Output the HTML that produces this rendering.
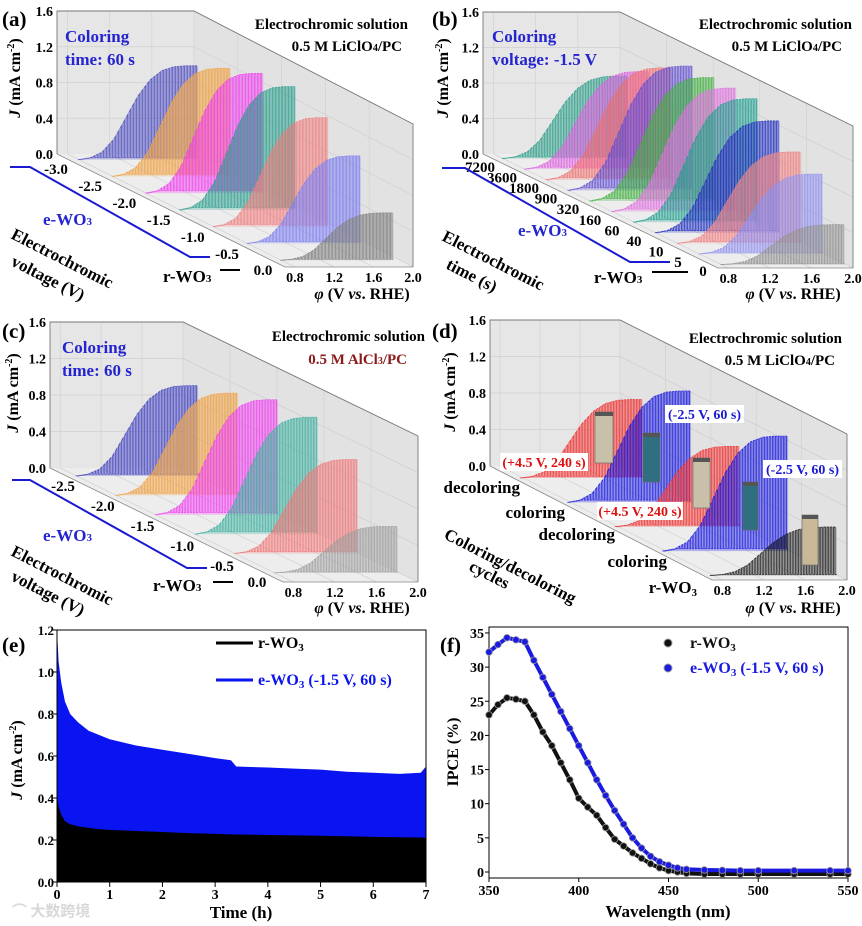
<!DOCTYPE html>
<html><head><meta charset="utf-8">
<style>
html,body{margin:0;padding:0;background:#fff;}
svg{display:block;font-family:"Liberation Serif","Noto Serif CJK SC",serif;font-weight:bold;}
</style></head>
<body>
<svg id="fig" width="862" height="926" viewBox="0 0 862 926" xmlns="http://www.w3.org/2000/svg">
  <g id="layer3d"></g>
  <g id="layerE"></g>
  <g id="layerF"></g>
  <g id="layerText">
    <text x="2" y="26" font-size="21">(a)</text>
    <text x="432" y="26" font-size="21">(b)</text>
    <text x="2" y="338" font-size="21">(c)</text>
    <text x="432" y="338" font-size="21">(d)</text>
    <text x="2" y="652" font-size="21">(e)</text>
    <text x="440" y="652" font-size="21">(f)</text>
    <!-- (a) -->
    <text x="65" y="42" font-size="17" fill="#2424d0">Coloring</text>
    <text x="65" y="65" font-size="17" fill="#2424d0">time: 60 s</text>
    <text x="408" y="29" font-size="15" text-anchor="end">Electrochromic solution</text>
    <text x="402" y="51" font-size="15" text-anchor="end">0.5 M LiClO<tspan font-size="10">4</tspan>/PC</text>
    <text x="43" y="225" font-size="17" fill="#2424d0">e-WO<tspan font-size="11">3</tspan></text>
    <text x="163" y="282" font-size="17">r-WO<tspan font-size="11">3</tspan></text>
    <text font-size="17" transform="translate(10,238) rotate(27)">Electrochromic</text>
    <text font-size="17" transform="translate(10,265) rotate(27)">voltage (V)</text>
    <text font-size="16" text-anchor="middle" transform="translate(20,78) rotate(-90)"><tspan font-style="italic">J</tspan> (mA cm<tspan font-size="10" dy="-6">-2</tspan><tspan dy="6">)</tspan></text>
    <text x="362" y="299" font-size="16" text-anchor="middle"><tspan font-style="italic">φ</tspan> (V <tspan font-style="italic">vs</tspan>. RHE)</text>
    <!-- (b) -->
    <text x="492" y="42" font-size="17" fill="#2424d0">Coloring</text>
    <text x="492" y="65" font-size="17" fill="#2424d0">voltage: -1.5 V</text>
    <text x="852" y="29" font-size="15" text-anchor="end">Electrochromic solution</text>
    <text x="842" y="51" font-size="15" text-anchor="end">0.5 M LiClO<tspan font-size="10">4</tspan>/PC</text>
    <text x="518" y="236" font-size="17" fill="#2424d0">e-WO<tspan font-size="11">3</tspan></text>
    <text x="594" y="283" font-size="17">r-WO<tspan font-size="11">3</tspan></text>
    <text font-size="17" transform="translate(441,240) rotate(27)">Electrochromic</text>
    <text font-size="17" transform="translate(445,268) rotate(27)">time (s)</text>
    <text font-size="16" text-anchor="middle" transform="translate(448,78) rotate(-90)"><tspan font-style="italic">J</tspan> (mA cm<tspan font-size="10" dy="-6">-2</tspan><tspan dy="6">)</tspan></text>
    <text x="793" y="299" font-size="16" text-anchor="middle"><tspan font-style="italic">φ</tspan> (V <tspan font-style="italic">vs</tspan>. RHE)</text>
    <!-- (c) -->
    <text x="62" y="353" font-size="17" fill="#2424d0">Coloring</text>
    <text x="62" y="376" font-size="17" fill="#2424d0">time: 60 s</text>
    <text x="425" y="341" font-size="15" text-anchor="end">Electrochromic solution</text>
    <text x="407" y="364" font-size="15" text-anchor="end" fill="#8b1a1a">0.5 M AlCl<tspan font-size="10">3</tspan>/PC</text>
    <text x="43" y="541" font-size="17" fill="#2424d0">e-WO<tspan font-size="11">3</tspan></text>
    <text x="153" y="591" font-size="17">r-WO<tspan font-size="11">3</tspan></text>
    <text font-size="17" transform="translate(10,555) rotate(27)">Electrochromic</text>
    <text font-size="17" transform="translate(10,580) rotate(27)">voltage (V)</text>
    <text font-size="16" text-anchor="middle" transform="translate(18,393) rotate(-90)"><tspan font-style="italic">J</tspan> (mA cm<tspan font-size="10" dy="-6">-2</tspan><tspan dy="6">)</tspan></text>
    <text x="362" y="613" font-size="16" text-anchor="middle"><tspan font-style="italic">φ</tspan> (V <tspan font-style="italic">vs</tspan>. RHE)</text>
    <!-- (d) -->
    <text x="842" y="343" font-size="15" text-anchor="end">Electrochromic solution</text>
    <text x="835" y="365" font-size="15" text-anchor="end">0.5 M LiClO<tspan font-size="10">4</tspan>/PC</text>
    <text font-size="17" transform="translate(443,538) rotate(27)">Coloring/decoloring</text>
    <text font-size="17" transform="translate(468,570) rotate(27)">cycles</text>
    <text font-size="16" text-anchor="middle" transform="translate(455,392) rotate(-90)"><tspan font-style="italic">J</tspan> (mA cm<tspan font-size="10" dy="-6">-2</tspan><tspan dy="6">)</tspan></text>
    <text x="793" y="613" font-size="16" text-anchor="middle"><tspan font-style="italic">φ</tspan> (V <tspan font-style="italic">vs</tspan>. RHE)</text>
    <text x="12" y="916" font-size="15" fill="#d8d8d8" font-family="'Noto Sans CJK SC',sans-serif">⌒ 大数跨境</text>
  </g>
</svg>
<script>
const NS = 'http://www.w3.org/2000/svg';
function el(tag, attrs, parent) {
  const e = document.createElementNS(NS, tag);
  for (const k in attrs) e.setAttribute(k, attrs[k]);
  parent.appendChild(e);
  return e;
}

/* ---------- 3D waterfall data ---------- */
const envShape = [0, 0.02, 0.08, 0.22, 0.45, 0.68, 0.85, 0.95, 0.99, 1, 1];
const aLabels = ['-3.0', '-2.5', '-2.0', '-1.5', '-1.0', '-0.5', '0.0'];
const aPeaks = [1.05, 1.21, 1.34, 1.38, 1.22, 0.98, 0.53];
const aColors = ['#5050c0', '#f0a040', '#f040f0', '#30a090', '#f08080', '#8080f0', '#808080'];
const bLabels = ['7200', '3600', '1800', '900', '320', '160', '60', '40', '10', '5', '0'];
const bPeaks = [0.93, 1.1, 1.26, 1.4, 1.39, 1.39, 1.39, 1.26, 1.03, 0.9, 0.45];
const bColors = ['#2a9d88', '#e060e0', '#f07070', '#6050d0', '#40b040', '#e070e0', '#20a090', '#2030c0', '#f08080', '#9090f0', '#909090'];
const cLabels = ['-2.5', '-2.0', '-1.5', '-1.0', '-0.5', '0.0'];
const cPeaks = [0.99, 1.12, 1.26, 1.28, 1.03, 0.51];
const cColors = ['#4545c0', '#f0a040', '#f040f0', '#40b0a0', '#f07878', '#a0a0a0'];
const dLabels = ['decoloring', 'coloring', 'decoloring', 'coloring', 'r-WO3'];
const dPeaks = [0.86, 1.22, 0.88, 1.26, 0.53];
const dColors = ['#f03030', '#1a1ae0', '#f03030', '#1a1ae0', '#202020'];
const jTicks = [0.0, 0.4, 0.8, 1.2, 1.6];
const phiTicks = [0.8, 1.2, 1.6, 2.0];

const panels = [
  {id:'a', g:{bx0:57,bx1:194,by0:154,top:11,fx0:285,fx1:413,fy:267}, t0:0.05, t1:0.94, us:0.07, ue:0.95,
   labels:aLabels, peaks:aPeaks, colors:aColors, lab0:[56,174], lab1:[227,259], labLast:[263,275], bracket:[[10,167],[30,167],[190,257],[210,257]], dash:[220,270,240,270]},
  {id:'b', g:{bx0:483,bx1:620,by0:154,top:12,fx0:718,fx1:853,fy:268}, t0:0.04, t1:0.97, us:0.07, ue:0.99,
   labels:bLabels, peaks:bPeaks, colors:bColors, lab0:[480,172], lab1:[678,267], labLast:[703,276], bracket:[[442,168],[465,168],[630,262],[670,262]], dash:[652,272,688,272]},
  {id:'c', g:{bx0:50,bx1:183,by0:468,top:322,fx0:283,fx1:418,fy:582}, t0:0.07, t1:0.92, us:0.07, ue:0.99,
   labels:cLabels, peaks:cPeaks, colors:cColors, lab0:[63,491], lab1:[222,571], labLast:[257,587], bracket:[[12,480],[30,480],[187,568],[207,568]], dash:[213,582,233,582]},
  {id:'d', g:{bx0:490,bx1:620,by0:466,top:320,fx0:712,fx1:847,fy:580}, t0:0.105, t1:0.96, us:0.05, ue:0.99,
   labels:dLabels, peaks:dPeaks, colors:dColors, textLabels:true, bracket:null}
];

function proj(g, u, t, J) {
  const s = (g.by0 - g.top) / 1.6;
  const xl = g.bx0 + t * (g.fx0 - g.bx0);
  const w = (g.bx1 - g.bx0) + t * ((g.fx1 - g.fx0) - (g.bx1 - g.bx0));
  return [xl + u * w, g.by0 + t * (g.fy - g.by0) - J * s];
}
function envAt(f) {
  const n = envShape.length - 1;
  const p = Math.max(0, Math.min(n, f * n));
  const i = Math.min(n - 1, Math.floor(p));
  return envShape[i] + (envShape[i + 1] - envShape[i]) * (p - i);
}
const phiU = v => (v - 0.7) / 1.3;

const L3 = document.getElementById('layer3d');
panels.forEach(P => {
  const g = P.g;
  const grp = el('g', {}, L3);
  
  
  const dy = g.fy - g.by0;
  const pt = a => a.map(p => p.join(',')).join(' ');
  const back = el('polygon', {points: pt([[g.bx0,g.top],[g.bx1,g.top],[g.bx1,g.by0],[g.bx0,g.by0]]), fill:'#e6e6e6'}, grp);
  
  
  const side = el('polygon', {points: pt([[g.bx1,g.top],[g.fx1,g.top+dy],[g.fx1,g.fy],[g.bx1,g.by0]]), fill:'#e2e2e2'}, grp);
  
  
  const floor = el('polygon', {points: pt([[g.bx0,g.by0],[g.bx1,g.by0],[g.fx1,g.fy],[g.fx0,g.fy]]), fill:'#ededed'}, grp);
  
  
  jTicks.forEach(J => {
    if (J === 0) return;
    const a = proj(g, 0, 0, J), b = proj(g, 1, 0, J), c = proj(g, 1, 1, J);
    const l1 = el('line', {x1:a[0],y1:a[1],x2:b[0],y2:b[1],stroke:'#cfcfcf','stroke-width':0.7}, grp);
    
    
    const l2 = el('line', {x1:b[0],y1:b[1],x2:c[0],y2:c[1],stroke:'#cfcfcf','stroke-width':0.7}, grp);
    
    
  });
  phiTicks.forEach(v => {
    const u = phiU(v);
    const a = proj(g, u, 0, 1.6), b = proj(g, u, 0, 0), c = proj(g, u, 1, 0);
    const l = el('polyline', {points: pt([a,b,c]), fill:'none', stroke:'#d2d2d2','stroke-width':0.7}, grp);
    
    
    const lb = el('text', {x:c[0], y:c[1]+15, 'font-size':14, 'text-anchor':'middle'}, grp);
    
    
    lb.textContent = v.toFixed(1);
  });
  for (let k = 1; k < 5; k++) {
    const t = k / 5;
    const a = proj(g, 1, t, 1.6), b = proj(g, 1, t, 0);
    const l = el('line', {x1:a[0],y1:a[1],x2:b[0],y2:b[1],stroke:'#d2d2d2','stroke-width':0.7}, grp);
    
    
  }
  const fr = el('polyline', {points: pt([[g.bx0,g.by0],[g.bx0,g.top],[g.bx1,g.top],[g.fx1,g.top+dy],[g.fx1,g.fy]]), fill:'none', stroke:'#777','stroke-width':0.9}, grp);
  
  
  const fr2 = el('polyline', {points: pt([[g.bx0,g.by0],[g.fx0,g.fy],[g.fx1,g.fy]]), fill:'none', stroke:'#888','stroke-width':0.8}, grp);
  
  
  jTicks.forEach(J => {
    const p = proj(g, 0, 0, J);
    const t = el('text', {x:p[0]-4, y:p[1]+5, 'font-size':14, 'text-anchor':'end'}, grp);
    
    
    t.textContent = J.toFixed(1);
  });
  const n = P.peaks.length;
  const N = 40;
  P.peaks.forEach((pk, i) => {
    const t = P.t0 + (P.t1 - P.t0) * i / (n - 1);
    const sg = el('g', {}, grp);
    
    
    const poly = [];
    for (let k = 0; k <= 50; k++) {
      const f = k / 50;
      poly.push(proj(g, P.us + (P.ue - P.us) * f, t, pk * envAt(f)));
    }
    poly.push(proj(g, P.ue, t, 0));
    poly.push(proj(g, P.us, t, 0));
    const fa = el('polygon', {points: pt(poly), fill:P.colors[i], 'fill-opacity':0.28}, sg);
    
    
    let d = '';
    const st = (P.ue - P.us) / N;
    for (let k = 0; k < N; k++) {
      const f0 = k / N, f1 = (k + 0.5) / N;
      const u0 = P.us + (P.ue - P.us) * f0, u1 = u0 + st * 0.5;
      const e0 = pk * envAt(f0), e1 = pk * envAt(f1);
      const dark = Math.min(e0, 0.02 * pk);
      const a = proj(g, u0, t, dark), b = proj(g, u0, t, e0), c = proj(g, u1, t, e1), dd = proj(g, u1, t, dark), nx = proj(g, u0 + st, t, dark);
      d += (k === 0 ? 'M' : 'L') + a.join(',') + 'L' + b.join(',') + 'L' + c.join(',') + 'L' + dd.join(',') + 'L' + nx.join(',');
    }
    const sp = el('path', {d: d, fill:'none', stroke:P.colors[i], 'stroke-width':0.8, 'stroke-opacity':0.9}, sg);
    
    
  });
  if (P.textLabels) {
    const dpos = [[520,493],[565,518],[615,540],[667,567],[697,593]];
    P.labels.forEach((lab, i) => {
      const tx = el('text', {x:dpos[i][0], y:dpos[i][1], 'font-size':17, 'text-anchor':'end'}, grp);
      
      
      if (lab === 'r-WO3') { tx.innerHTML = 'r-WO<tspan font-size="11" dy="3">3</tspan>'; }
      else tx.textContent = lab;
    });
  } else {
    const m = n - 1;
    P.labels.forEach((lab, i) => {
      let x, y;
      if (i === n - 1) { x = P.labLast[0]; y = P.labLast[1]; }
      else { x = P.lab0[0] + (P.lab1[0] - P.lab0[0]) * i / (m - 1); y = P.lab0[1] + (P.lab1[1] - P.lab0[1]) * i / (m - 1); }
      const tx = el('text', {x:x, y:y, 'font-size':15, 'text-anchor':'middle'}, grp);
      
      
      tx.textContent = lab;
    });
    const br = el('polyline', {points: pt(P.bracket), fill:'none', stroke:'#1a1ad0', 'stroke-width':2}, grp);
    
    
    const ds = el('line', {x1:P.dash[0], y1:P.dash[1], x2:P.dash[2], y2:P.dash[3], stroke:'#000', 'stroke-width':2}, grp);
    
    
  }
});

/* ---------- panel d annotations ---------- */
const Ld = document.getElementById('layerText');
const vials = [[595,412,18,51,'#c8c0a8'],[643,433,17,49,'#2f6f80'],[693,458,17,50,'#c8c0a8'],[743,482,15,48,'#2f6f80'],[802,515,16,50,'#c8b898']];
vials.forEach(v => {
  const r = el('rect', {x:v[0], y:v[1], width:v[2], height:v[3], fill:v[4], stroke:'#666', 'stroke-width':0.6}, Ld);
  
  
  const c = el('rect', {x:v[0], y:v[1], width:v[2], height:4, fill:'#555'}, Ld);
  
  
});
const notes = [[500,453,88,'(+4.5 V, 240 s)','#e01010'],[665,405,79,'(-2.5 V, 60 s)','#1a1ad0'],[597,502,86,'(+4.5 V, 240 s)','#e01010'],[763,460,79,'(-2.5 V, 60 s)','#1a1ad0']];
notes.forEach(n => {
  const r = el('rect', {x:n[0], y:n[1], width:n[2], height:18, fill:'#fff'}, Ld);
  
  
  const t = el('text', {x:n[0]+n[2]/2, y:n[1]+14, 'font-size':14, 'text-anchor':'middle', fill:n[4]}, Ld);
  
  
  t.textContent = n[3];
});

/* ---------- panel e ---------- */
const eTime = [0, 0.03, 0.08, 0.15, 0.25, 0.4, 0.6, 0.8, 1.0, 1.5, 2.0, 2.5, 3.0, 3.3, 3.4, 4.0, 4.5, 5.0, 5.5, 6.0, 6.5, 6.9, 7.0];
const eBlue = [1.2, 1.05, 0.95, 0.86, 0.8, 0.76, 0.72, 0.7, 0.68, 0.65, 0.63, 0.61, 0.59, 0.58, 0.55, 0.545, 0.54, 0.535, 0.525, 0.52, 0.515, 0.52, 0.55];
const eBlack = [0.42, 0.36, 0.32, 0.29, 0.275, 0.265, 0.258, 0.252, 0.248, 0.243, 0.238, 0.233, 0.229, 0.227, 0.226, 0.224, 0.222, 0.22, 0.218, 0.215, 0.213, 0.212, 0.21];
const eXTicks = [0, 1, 2, 3, 4, 5, 6, 7];
const eYTicks = [0.0, 0.2, 0.4, 0.6, 0.8, 1.0, 1.2];
(function(){
  const L = document.getElementById('layerE');
  const X0 = 57, X1 = 426, Y0 = 882, Y1 = 630;
  const xs = v => X0 + v / 7 * (X1 - X0);
  const ys = v => Y0 - v / 1.2 * (Y0 - Y1);
  const area = (arr, col, name) => {
    let pts = eTime.map((t, i) => xs(t) + ',' + ys(arr[i]));
    pts.push(xs(7) + ',' + Y0, xs(0) + ',' + Y0);
    const p = el('polygon', {points: pts.join(' '), fill: col}, L);
    
    
  };
  area(eBlue, '#0a14f0', 'ewo3-current-area');
  area(eBlack, '#000', 'rwo3-current-area');
  const fr = el('rect', {x:X0, y:Y1, width:X1-X0, height:Y0-Y1, fill:'none', stroke:'#000', 'stroke-width':1}, L);
  
  
  eXTicks.forEach(v => {
    const tk = el('line', {x1:xs(v), y1:Y0, x2:xs(v), y2:Y0+5, stroke:'#000'}, L);
    
    
    const t = el('text', {x:xs(v), y:Y0+17, 'font-size':14, 'text-anchor':'middle'}, L);
    
    
    t.textContent = v;
  });
  eYTicks.forEach(v => {
    const tk = el('line', {x1:X0-4, y1:ys(v), x2:X0, y2:ys(v), stroke:'#000'}, L);
    
    
    const t = el('text', {x:X0-3, y:ys(v)+5, 'font-size':13, 'text-anchor':'end'}, L);
    
    
    t.textContent = v.toFixed(1);
  });
  const xt = el('text', {x:241, y:918, 'font-size':17, 'text-anchor':'middle'}, L);
  
  
  xt.textContent = 'Time (h)';
  const yt = el('text', {'font-size':16, 'text-anchor':'middle', transform:'translate(22,760) rotate(-90)'}, L);
  
  
  yt.innerHTML = '<tspan font-style="italic">J</tspan> (mA cm<tspan font-size="10" dy="-6">-2</tspan><tspan dy="6">)</tspan>';
  const lg = [[643,'#000','r-WO<tspan font-size="11" dy="3">3</tspan>'],[680,'#0a14f0','e-WO<tspan font-size="11" dy="3">3</tspan><tspan dy="-3"> (-1.5 V, 60 s)</tspan>']];
  lg.forEach(l => {
    const ln = el('line', {x1:216, y1:l[0], x2:253, y2:l[0], stroke:l[1], 'stroke-width':3}, L);
    
    
    const t = el('text', {x:258, y:l[0]+5, 'font-size':16, fill:l[1]}, L);
    
    
    t.innerHTML = l[2];
  });
})();

/* ---------- panel f ---------- */
const fWave = [350,355,360,365,370,375,380,385,390,395,400,405,410,415,420,425,430,435,440,445,450,455,460,470,480,490,500,520,540,550];
const fR = [23,24.5,25.5,25.3,25,23,20.5,18.5,16,13.5,10.8,9.5,8.3,6.5,4.8,3.8,2.8,2,1.2,0.6,0.2,0,-0.2,-0.3,-0.3,-0.3,-0.3,-0.3,-0.3,-0.3];
const fE = [32.2,33.3,34.3,34,33.7,31,28.5,26,23.5,21,18.5,16,13.5,11.2,9,7,5,3.5,2.3,1.5,1,0.6,0.4,0.3,0.25,0.2,0.2,0.2,0.2,0.2];
const fXTicks = [350, 400, 450, 500, 550];
const fYTicks = [0, 5, 10, 15, 20, 25, 30, 35];
(function(){
  const L = document.getElementById('layerF');
  const X0 = 489, X1 = 848, YB = 878, YT = 627;
  const xs = v => X0 + (v - 350) / 200 * (X1 - X0);
  const ys = v => 872 - v * 6.83;
  const fr = el('rect', {x:X0, y:YT, width:X1-X0, height:YB-YT, fill:'none', stroke:'#000', 'stroke-width':1}, L);
  
  
  const series = (arr, col, name) => {
    const sg = el('g', {}, L);
    
    
    const pl = el('polyline', {points: fWave.map((w, i) => xs(w) + ',' + ys(arr[i])).join(' '), fill:'none', stroke:col, 'stroke-width':4}, sg);
    
    
    fWave.forEach((w, i) => {
      const c = el('circle', {cx:xs(w), cy:ys(arr[i]), r:3.3, fill:col, stroke:'#999', 'stroke-width':0.8}, sg);
      
      
    });
  };
  series(fR, '#111', 'rwo3-ipce-series');
  series(fE, '#1a1ae0', 'ewo3-ipce-series');
  fXTicks.forEach(v => {
    const tk = el('line', {x1:xs(v), y1:YB, x2:xs(v), y2:YB+4, stroke:'#000'}, L);
    
    
    const t = el('text', {x:xs(v), y:YB+17, 'font-size':14, 'text-anchor':'middle'}, L);
    
    
    t.textContent = v;
  });
  fYTicks.forEach(v => {
    const tk = el('line', {x1:X0-4, y1:ys(v), x2:X0, y2:ys(v), stroke:'#000'}, L);
    
    
    const t = el('text', {x:X0-5, y:ys(v)+5, 'font-size':14, 'text-anchor':'end'}, L);
    
    
    t.textContent = v;
  });
  const xt = el('text', {x:668, y:917, 'font-size':17, 'text-anchor':'middle'}, L);
  
  
  xt.textContent = 'Wavelength (nm)';
  const yt = el('text', {'font-size':16, 'text-anchor':'middle', transform:'translate(458,752) rotate(-90)'}, L);
  
  
  yt.textContent = 'IPCE (%)';
  const lg = [[643,'#111','r-WO<tspan font-size="11" dy="3">3</tspan>'],[668,'#1a1ae0','e-WO<tspan font-size="11" dy="3">3</tspan><tspan dy="-3"> (-1.5 V, 60 s)</tspan>']];
  lg.forEach(l => {
    const c = el('circle', {cx:668, cy:l[0], r:4, fill:l[1], stroke:'#999'}, L);
    
    
    const t = el('text', {x:690, y:l[0]+5, 'font-size':16, fill:l[1]}, L);
    
    
    t.innerHTML = l[2];
  });
})();
</script>
</body></html>
